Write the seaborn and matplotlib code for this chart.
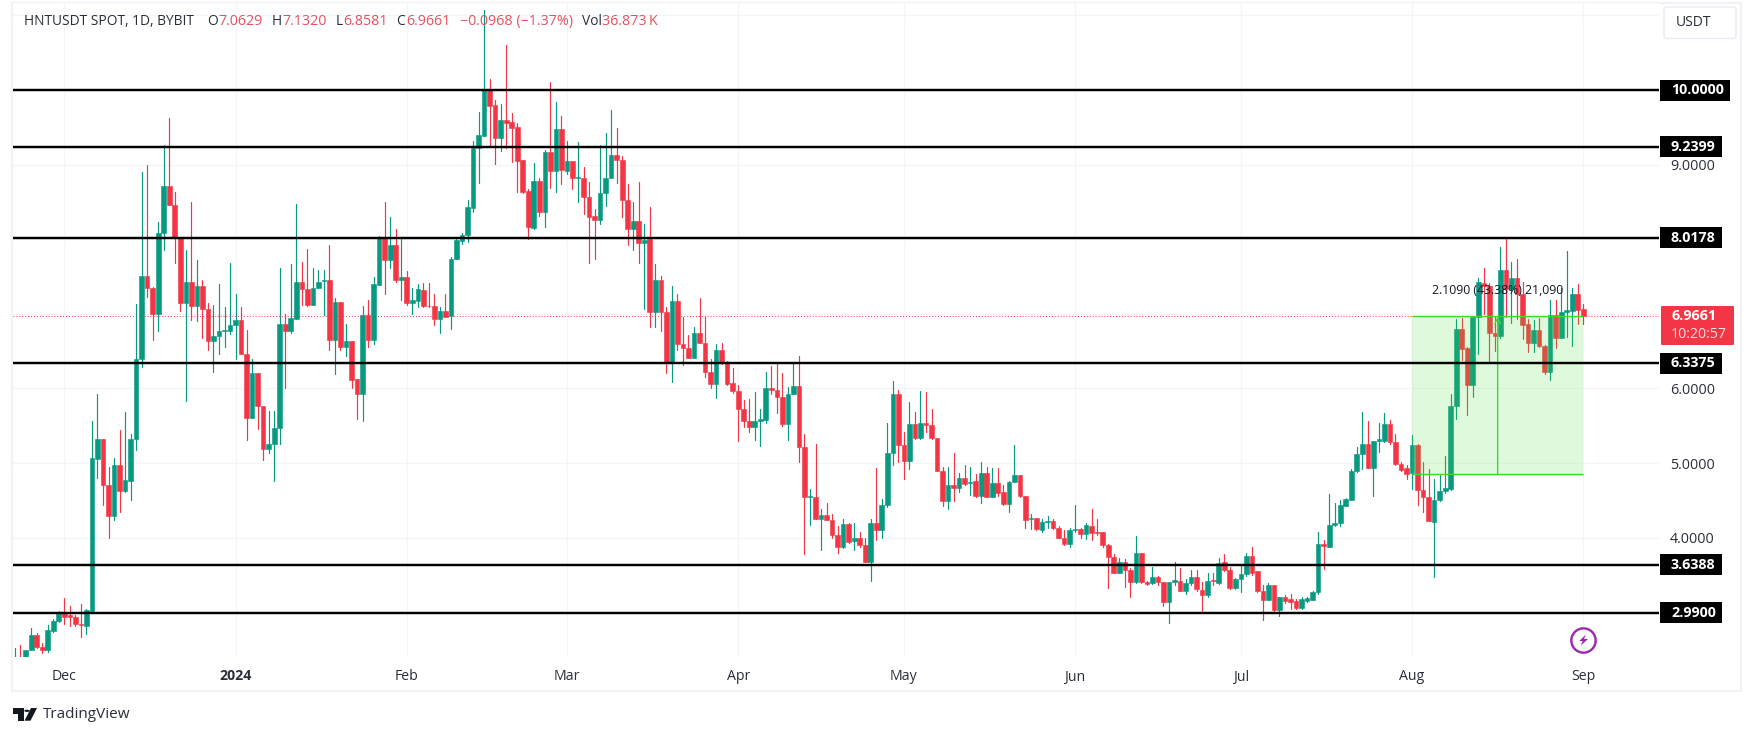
import pandas as pd
import seaborn as sns
import matplotlib.pyplot as plt
from matplotlib.patches import Rectangle, FancyBboxPatch, Polygon
from matplotlib.transforms import blended_transform_factory

sns.set_style('white')
plt.rcParams['font.family'] = ['Open Sans', 'DejaVu Sans']

open_px = [
    2.35,2.38,2.36,2.49,2.70,2.54,2.49,2.75,2.88,2.99, 2.96,2.93,2.84,2.82,3.01,5.06,5.32,4.71,4.29,4.98,
    4.62,4.76,5.32,6.39,7.51,7.34,7.00,8.09,8.72,8.46, 8.03,7.15,7.43,7.10,7.38,7.07,6.63,6.70,6.77,6.77,
    6.85,6.92,6.46,5.61,6.21,5.77,5.19,5.26,5.47,6.87, 6.77,6.93,7.43,7.33,7.12,7.34,7.44,7.45,6.65,7.16,
    6.55,6.64,6.13,5.93,6.98,6.65,7.39,8.02,7.72,7.92, 7.46,7.50,7.14,7.17,7.32,7.11,7.11,6.93,7.04,6.97,
    7.73,7.98,8.06,8.42,9.22,9.38,10.00,9.80,9.36,9.60, 9.57,9.50,9.06,8.65,8.15,8.78,8.36,9.17,8.92,9.48,
    8.92,9.05,8.82,8.82,8.57,8.31,8.26,8.62,8.82,9.13, 9.06,8.52,8.14,8.25,7.95,8.00,7.03,7.46,7.03,6.35,
    7.17,6.60,6.54,6.41,6.74,6.61,6.22,6.06,6.51,6.34, 6.07,5.96,5.72,5.56,5.49,5.57,5.58,6.00,5.98,5.88,
    5.53,5.93,6.03,5.22,4.55,4.55,4.25,4.31,4.24,4.03, 3.88,4.18,3.95,4.00,3.90,3.68,4.19,4.10,4.44,5.14,
    5.93,5.24,5.03,5.53,5.34,5.54,5.51,5.34,4.90,4.49, 4.71,4.66,4.80,4.73,4.76,4.56,4.87,4.55,4.73,4.61,
    4.45,4.74,4.84,4.56,4.25,4.26,4.10,4.21,4.22,4.13, 4.00,3.92,4.10,4.11,4.05,4.16,4.07,4.07,3.90,3.74,
    3.53,3.67,3.57,3.40,3.80,3.40,3.39,3.47,3.40,3.14, 3.40,3.42,3.29,3.39,3.47,3.30,3.23,3.43,3.39,3.67,
    3.57,3.32,3.44,3.51,3.75,3.55,3.29,3.17,3.36,3.03, 3.20,3.18,3.15,3.06,3.15,3.17,3.27,3.91,3.88,4.17,
    4.19,4.43,4.51,4.90,5.12,5.25,4.94,5.29,5.29,5.52, 5.28,4.99,4.93,4.86,5.24,4.64,4.54,4.21,4.50,4.62,
    4.65,5.77,6.80,6.54,6.05,6.96,7.41,7.37,6.75,6.70, 7.59,7.33,7.48,7.26,6.87,6.61,6.79,6.57,6.22,6.99,
    6.68,7.03,7.04,7.27,7.0629]
high_px = [
    2.52,2.56,2.50,2.79,2.72,2.59,2.83,2.91,3.01,3.19, 3.09,2.96,3.11,3.05,5.56,5.92,5.32,4.95,5.07,5.44,
    5.69,5.39,7.13,8.90,8.99,7.36,8.23,9.27,9.62,8.63, 8.03,7.86,8.50,7.72,7.45,7.15,7.12,7.40,7.09,7.68,
    7.26,7.09,6.78,6.39,6.21,5.77,5.70,5.70,7.61,7.00, 7.67,8.47,7.70,7.87,7.61,7.59,7.59,7.92,7.21,7.16,
    6.87,6.64,6.13,7.11,7.19,7.50,8.04,8.50,8.30,8.14, 8.01,7.58,7.34,7.40,7.42,7.42,7.26,7.09,7.26,7.76,
    8.01,8.09,8.53,9.32,9.70,11.07,10.15,9.87,9.81,10.60, 9.69,9.56,9.06,8.67,9.02,8.82,9.19,10.11,9.84,9.65,
    9.32,9.05,9.30,8.97,8.77,8.41,9.26,9.43,9.73,9.49, 9.12,8.74,8.50,8.77,8.20,8.43,7.67,7.51,7.09,7.37,
    7.26,6.96,6.71,6.83,7.21,6.96,6.39,6.60,6.61,6.37, 6.27,6.05,5.85,5.86,5.95,5.73,6.22,6.30,6.34,6.21,
    6.02,6.34,6.44,5.39,4.65,5.25,4.38,4.47,4.32,4.16, 4.25,4.20,4.20,4.07,3.99,4.25,4.93,4.52,5.54,6.10,
    5.98,5.42,5.82,5.69,5.97,5.95,5.73,5.34,4.95,4.95, 5.14,4.87,4.98,4.95,4.85,5.01,4.95,4.93,4.93,4.70,
    4.76,5.24,4.84,4.56,4.32,4.26,4.25,4.29,4.25,4.16, 4.10,4.13,4.44,4.13,4.19,4.39,4.25,4.08,3.91,3.78,
    3.73,3.71,3.59,4.02,3.80,3.42,3.61,3.49,3.41,3.41, 3.67,3.59,3.44,3.56,3.56,3.40,3.53,3.53,3.73,3.78,
    3.60,3.46,3.63,3.80,3.87,3.55,3.37,3.39,3.36,3.20, 3.23,3.25,3.18,3.21,3.20,3.28,4.08,3.97,4.59,4.46,
    4.51,4.53,4.92,5.22,5.68,5.56,5.30,5.54,5.67,5.58, 5.39,5.01,4.98,5.37,5.26,5.01,4.92,4.79,4.84,5.10,
    5.93,6.93,6.94,6.55,6.97,7.48,7.61,7.41,6.96,7.89, 8.00,7.70,7.73,7.43,6.93,6.92,6.95,6.58,7.18,7.18,
    7.34,7.84,7.34,7.40,7.132]
low_px = [
    2.30,2.28,2.34,2.49,2.52,2.45,2.47,2.74,2.87,2.84, 2.82,2.81,2.67,2.71,3.01,4.80,4.44,3.99,4.24,4.35,
    4.61,4.51,5.17,6.29,7.23,6.65,6.77,7.86,8.46,7.68, 7.04,5.83,6.92,6.90,6.68,6.51,6.22,6.46,6.56,6.73,
    6.39,6.46,5.31,5.60,5.45,5.04,5.14,4.76,5.26,6.00, 6.75,6.93,7.12,7.11,7.12,7.34,6.99,6.52,6.19,6.52,
    6.44,6.00,5.59,5.57,6.56,6.60,7.39,7.26,7.61,7.43, 7.18,7.12,7.00,7.09,7.09,7.09,6.85,6.75,6.96,6.80,
    7.73,7.94,7.97,8.36,8.75,9.38,9.26,9.01,9.18,9.23, 9.04,8.63,8.62,8.00,8.14,8.31,8.16,8.69,8.64,8.74,
    8.88,8.68,8.50,8.34,7.68,7.73,8.21,8.44,8.82,8.75, 8.30,7.92,7.86,7.68,7.07,6.82,6.83,6.77,6.21,6.09,
    6.52,6.32,6.41,6.41,6.61,6.15,6.01,5.87,6.33,6.05, 5.94,5.29,5.48,5.42,5.31,5.23,5.54,5.92,5.67,5.50,
    5.31,5.92,5.01,3.78,4.17,4.25,3.83,4.24,4.00,3.80, 3.86,3.93,3.83,3.88,3.68,3.42,3.97,3.99,4.41,4.98,
    5.02,4.78,4.92,5.32,5.32,5.41,5.32,4.90,4.43,4.39, 4.49,4.61,4.71,4.57,4.54,4.46,4.54,4.54,4.56,4.44,
    4.34,4.74,4.55,4.13,4.11,4.10,4.08,4.13,4.12,3.99, 3.90,3.88,4.08,4.00,3.98,3.97,4.03,3.88,3.33,3.52,
    3.52,3.34,3.20,3.39,3.39,3.37,3.38,3.37,3.09,2.86, 3.37,3.28,3.25,3.37,3.29,3.01,3.21,3.37,3.38,3.55,
    3.31,3.31,3.27,3.49,3.50,3.27,2.90,3.16,3.02,2.95, 3.12,3.04,3.05,3.05,3.14,3.16,3.25,3.58,3.88,4.16,
    4.16,4.42,4.50,4.88,4.92,4.93,4.56,5.15,5.28,5.26, 4.98,4.89,4.79,4.65,4.44,4.34,4.22,3.47,4.49,4.60,
    4.64,5.59,6.38,5.64,5.89,6.46,7.00,6.36,6.50,6.68, 6.96,6.88,6.93,6.66,6.49,6.49,6.56,6.19,6.12,6.54,
    6.67,6.69,6.57,6.87,6.8581]
close_px = [
    2.38,2.32,2.49,2.69,2.54,2.50,2.76,2.88,2.99,2.93, 2.93,2.84,2.83,3.03,5.07,5.32,4.71,4.29,4.98,4.62,
    4.77,5.32,6.40,7.51,7.34,7.00,8.09,8.72,8.46,8.02, 7.15,7.43,7.10,7.38,7.07,6.63,6.70,6.77,6.79,6.85,
    6.92,6.46,5.61,6.21,5.77,5.19,5.26,5.47,6.87,6.77, 6.94,7.43,7.33,7.12,7.34,7.43,7.45,6.65,7.16,6.55,
    6.64,6.11,5.93,6.98,6.65,7.40,8.02,7.72,7.92,7.45, 7.50,7.14,7.18,7.33,7.10,7.10,6.93,7.04,6.96,7.73,
    7.99,8.06,8.43,9.23,9.40,10.00,9.79,9.36,9.60,9.56, 9.49,9.05,8.63,8.16,8.78,8.36,9.17,8.92,9.48,8.93,
    9.05,8.82,8.83,8.57,8.30,8.26,8.62,8.82,9.13,9.06, 8.52,8.14,8.25,7.95,7.99,7.03,7.46,7.03,6.35,7.17,
    6.60,6.54,6.41,6.74,6.61,6.22,6.06,6.51,6.34,6.06, 5.96,5.72,5.56,5.49,5.57,5.59,6.00,5.98,5.88,5.53,
    5.93,6.03,5.22,4.54,4.56,4.25,4.31,4.24,4.03,3.88, 4.18,3.94,4.00,3.90,3.68,4.19,4.10,4.44,5.14,5.93,
    5.24,5.03,5.53,5.34,5.54,5.51,5.34,4.90,4.49,4.71, 4.66,4.80,4.72,4.75,4.56,4.87,4.55,4.73,4.60,4.45,
    4.74,4.84,4.56,4.24,4.26,4.12,4.21,4.22,4.13,4.00, 3.92,4.10,4.11,4.05,4.17,4.06,4.06,3.90,3.74,3.53,
    3.67,3.57,3.40,3.80,3.40,3.38,3.47,3.40,3.14,3.40, 3.43,3.29,3.39,3.47,3.31,3.23,3.42,3.42,3.66,3.57,
    3.33,3.44,3.51,3.76,3.52,3.29,3.17,3.36,3.03,3.20, 3.15,3.14,3.06,3.18,3.19,3.27,3.91,3.89,4.17,4.19,
    4.44,4.52,4.90,5.12,5.25,4.94,5.29,5.32,5.52,5.28, 4.99,4.91,4.85,5.24,4.64,4.54,4.22,4.50,4.62,4.66,
    5.77,6.80,6.53,6.05,6.96,7.43,7.37,6.75,6.70,7.59, 7.33,7.48,7.26,6.85,6.61,6.79,6.57,6.22,6.98,6.68,
    7.03,7.05,7.27,7.05,6.9661]

last_day = '2024-09-01'
level_values = [10.0, 9.2399, 8.0178, 6.3375, 3.6388, 2.99]
level_labels = ['10.0000', '9.2399', '8.0178', '6.3375', '3.6388', '2.9900']
grid_prices = [3, 4, 5, 6, 7, 8, 9, 10, 11]
shown_prices = [4, 5, 6, 9]
month_days = ['2023-12-01', '2024-01-01', '2024-02-01', '2024-03-01', '2024-04-01',
              '2024-05-01', '2024-06-01', '2024-07-01', '2024-08-01', '2024-09-01']
month_labels = ['Dec', '2024', 'Feb', 'Mar', 'Apr', 'May', 'Jun', 'Jul', 'Aug', 'Sep']
last_price = 6.9661
zone_low = 4.8571
zone_start = '2024-08-01'
zone_end = '2024-09-01'
zone_text = '2.1090 (43.38%) 21,090'
header_parts = [
    ('HNTUSDT SPOT, 1D, BYBIT', 23.5, 'ink'), ('O', 207.5, 'ink'), ('7.0629', 218.5, 'red'),
    ('H', 272, 'ink'), ('7.1320', 282, 'red'), ('L', 335.5, 'ink'), ('6.8581', 343.5, 'red'),
    ('C', 396, 'ink'), ('6.9661', 406, 'red'), ('\u22120.0968 (\u22121.37%)', 460, 'red'),
    ('Vol', 582.5, 'ink'), ('36.873\u2009K', 602.5, 'red')]

GREEN = '#089981'
RED = '#F23645'
ZONE_LINE = '#3FD62F'
ZONE_FILL = '#53E33D'
INK = '#2a2e39'
W, H = 1754, 736
XMIN, XMAX = pd.Timestamp('2023-11-21 17:00'), pd.Timestamp('2024-09-14 17:00')


def fx(x):
    return x / W


def fy(y):
    return 1 - y / H


def draw_shape(pts, color='#131722'):
    fig.add_artist(Polygon([(fx(a), fy(b)) for a, b in pts], transform=fig.transFigure,
                           facecolor=color, edgecolor='none', zorder=9))


def draw_candles(ax, df):
    wicks = df.melt(id_vars=['day', 'up'], value_vars=['high', 'low'], value_name='price')
    sns.lineplot(data=wicks, x='day', y='price', hue='up', palette={True: GREEN, False: RED},
                 units='day', estimator=None, sort=False, lw=0.85, legend=False, ax=ax, zorder=2)
    colors = [GREEN if u else RED for u in df['up']]
    bottoms = df[['open', 'close']].min(axis=1)
    heights = (df['open'] - df['close']).abs()
    ax.bar(df['day'], heights, bottom=bottoms, width=0.84, color=colors,
           edgecolor=colors, linewidth=0.4, zorder=3)


fig = plt.figure(figsize=(W / 100, H / 100), dpi=100)
ax = fig.add_axes([fx(13), fy(657), fx(1646), 654.5 / H])

days = pd.date_range(end=last_day, periods=len(open_px))
candles = pd.DataFrame({'day': days, 'open': open_px, 'high': high_px, 'low': low_px, 'close': close_px})
candles['up'] = candles['close'] >= candles['open']
draw_candles(ax, candles)

# position tool on top of the candles
z0, z1 = pd.Timestamp(zone_start), pd.Timestamp(zone_end)
zone_mid = z0 + (z1 - z0) / 2
ax.add_patch(Rectangle((z0, zone_low), z1 - z0, last_price - zone_low, facecolor=ZONE_FILL,
                       alpha=0.18, edgecolor='none', zorder=4))
ax.hlines([zone_low, last_price], z0, z1, color=ZONE_LINE, lw=1.0, zorder=5)
ax.annotate('', xy=(zone_mid, last_price), xytext=(zone_mid, zone_low), zorder=5,
            arrowprops=dict(arrowstyle='->', color=ZONE_LINE, lw=1.0, shrinkA=0, shrinkB=0))
ax.text(zone_mid, 7.31, zone_text, ha='center', va='center', fontsize=8.8, color='#131722', zorder=6)

# last price dotted line and the drawn levels
ax.axhline(last_price, color=RED, lw=0.7, ls=(0, (1, 2)), zorder=1.5)
levels = pd.DataFrame({'x': [XMIN, XMAX] * len(level_values),
                       'price': [v for v in level_values for _ in range(2)]})
sns.lineplot(data=levels, x='x', y='price', units='price', estimator=None, color='black',
             lw=1.75, legend=False, ax=ax, zorder=6)

ax.set_xlim(XMIN, XMAX)
ax.set_ylim(2.40, 11.174)
ax.set_xlabel('')
ax.set_ylabel('')
for side in ax.spines.values():
    side.set_visible(False)

ax.yaxis.tick_right()
ax.set_yticks(grid_prices)
ax.set_yticklabels(['%.4f' % p if p in shown_prices else '' for p in grid_prices], color=INK, fontsize=10.4)
ax.set_xticks(pd.to_datetime(month_days))
ax.set_xticklabels(month_labels, color=INK, fontsize=10.2)
ax.get_xticklabels()[1].set_fontweight('bold')
ax.tick_params(axis='y', length=0, pad=8)
ax.tick_params(axis='x', length=0, pad=9)
ax.grid(True, color='#f3f5f8', lw=1.0)
ax.set_axisbelow(True)

# price scale labels
trans = blended_transform_factory(ax.transAxes, ax.transData)
px_w = 1 / 1646
px_h = (11.174 - 2.40) / 654.5
for val, lab in zip(level_values, level_labels):
    wide = 70 if val >= 10 else 62
    ax.add_patch(Rectangle((1 + px_w, val - 10.5 * px_h), wide * px_w, 21 * px_h, transform=trans,
                           facecolor='black', edgecolor='none', clip_on=False, zorder=7))
    ax.text(1 + 12 * px_w, val, lab, transform=trans, color='white', fontsize=10.3, fontweight='bold',
            va='center', ha='left', clip_on=False, zorder=8)

fig.add_artist(FancyBboxPatch((fx(1661), fy(345)), 73 / W, 39 / H, boxstyle='round,pad=0,rounding_size=0.001',
                              transform=fig.transFigure, facecolor=RED, edgecolor='none', zorder=7))
fig.text(fx(1671), fy(316), '6.9661', color='white', fontsize=10.3, va='center', fontweight='bold', zorder=8)
fig.text(fx(1671), fy(334), '10:20:57', color='#fbdde0', fontsize=10.2, va='center', zorder=8)

# header line
for part, x, tone in header_parts:
    if tone == 'ink':
        fig.text(fx(x), fy(21.7), part, fontsize=9.9, va='center', color=INK)
    else:
        fig.text(fx(x), fy(21.7), part, fontsize=10.3, va='center', color='#e8505f')

# currency button
fig.add_artist(FancyBboxPatch((fx(1664), fy(38.5)), 72 / W, 31.5 / H, boxstyle='round,pad=0,rounding_size=0.002',
                              transform=fig.transFigure, facecolor='white', edgecolor='#e9ecf2', lw=1.0))
fig.text(fx(1676), fy(23), 'USDT', fontsize=10, va='center', color=INK)

# outer frame
fig.add_artist(Rectangle((fx(12), fy(691)), 1729 / W, 688.5 / H, transform=fig.transFigure,
                         facecolor='none', edgecolor='#f0f2f6', lw=1.6, zorder=0))

# lightning mark at the last session
ax.plot([z1], [2.63], marker='o', ms=17.5, mfc='white', mec='#9C27B0', mew=1.7, clip_on=False, zorder=6)
draw_shape([(1586, 634.3), (1579.3, 641), (1582.7, 641), (1580.7, 645.7), (1588, 639), (1584, 639)], '#9C27B0')

# TradingView logo
draw_shape([(12.8, 708), (23.7, 708), (23.7, 720.7), (18.4, 720.7), (18.4, 713.5), (12.8, 713.5)])
draw_shape([(31, 708), (37, 708), (30.5, 720.7), (24.5, 720.7)])
fig.add_artist(plt.Circle((fx(27), fy(710.8)), 2.7 / W, transform=fig.transFigure, facecolor='#131722', edgecolor='none'))
fig.text(fx(42.5), fy(715), 'TradingView', fontsize=11, va='center', color=INK)

fig.savefig('out.png', dpi=100, facecolor='white')
